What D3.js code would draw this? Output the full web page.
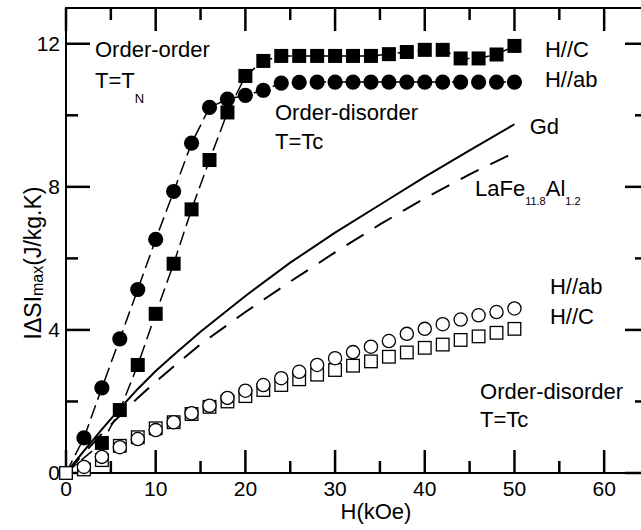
<!DOCTYPE html>
<html><head><meta charset="utf-8">
<script src="https://cdn.jsdelivr.net/npm/d3@7/dist/d3.min.js"></script>
<style>
html,body{margin:0;padding:0;background:#fff;}
svg{display:block;font-family:"Liberation Sans",Arial,Helvetica,sans-serif;}
</style></head>
<body>
<svg id="chart" width="641" height="530"></svg>
<script>
// ---- data ----
const fieldFilledCircle = [2,4,6,8,10,12,14,16,18,20,22,24,26,28,30,32,34,36,38,40,42,44,46,48,50];
const abOrderOrder = [0.98,2.38,3.75,5.13,6.53,7.87,9.22,10.22,10.45,10.56,10.7,10.9,10.92,10.93,10.93,10.93,10.93,10.93,10.93,10.93,10.93,10.93,10.93,10.93,10.93];
const fieldFilledSquare = [4,6,8,10,12,14,16,18,20,22,24,26,28,30,32,34,36,38,40,42,44,46,48,50];
const cOrderOrder = [0.84,1.76,3.02,4.45,5.85,7.37,8.75,10.08,11.1,11.52,11.66,11.66,11.66,11.66,11.66,11.66,11.71,11.77,11.83,11.83,11.59,11.59,11.7,11.94];
const fieldOpen = [2,4,6,8,10,12,14,16,18,20,22,24,26,28,30,32,34,36,38,40,42,44,46,48,50];
const abOrderDisorder = [0.17,0.45,0.72,0.95,1.2,1.42,1.67,1.88,2.1,2.3,2.46,2.65,2.83,3.02,3.21,3.38,3.53,3.69,3.89,4.03,4.16,4.29,4.41,4.5,4.6];
const fieldOpenSquare = [0,2,4,6,8,10,12,14,16,18,20,22,24,26,28,30,32,34,36,38,40,42,44,46,48,50];
const cOrderDisorder = [0,0.1,0.36,0.76,1.0,1.25,1.42,1.65,1.85,2.0,2.15,2.32,2.46,2.62,2.75,2.88,3.0,3.12,3.25,3.37,3.5,3.59,3.72,3.82,3.92,4.03];
const fieldRef = [0,2,4,6,8,10,12,15,20,25,30,35,40,45,50];
const gdValues = [0,0.62,1.22,1.8,2.35,2.85,3.3,3.95,4.95,5.88,6.72,7.5,8.28,9.02,9.75];
const laFeValues = [0,0.55,1.1,1.6,2.1,2.55,2.98,3.6,4.5,5.35,6.17,6.95,7.68,8.35,8.96];
const xMajorTicks = [0,10,20,30,40,50,60];
const xMinorTicks = [5,15,25,35,45,55];
const yMajorTicks = [0,4,8,12];
const yMinorTicks = [2,6,10];
const xTickLabels = ["0","10","20","30","40","50","60"];
const yTickLabels = ["0","4","8","12"];

const svg = d3.select("#chart");
const x = d3.scaleLinear().domain([0,65]).range([66,649]);
const y = d3.scaleLinear().domain([0,13]).range([473,8]);
const xL = x(0), xR = x(65), yB = y(0), yT = y(13);

// frame
svg.append("rect").attr("x",xL).attr("y",yT).attr("width",xR-xL).attr("height",yB-yT)
  .attr("fill","none").attr("stroke","#000").attr("stroke-width",2);

// ticks (inward, on all four sides)
const tickSegs = [];
xMajorTicks.forEach(v=>{ tickSegs.push([x(v),yB,x(v),yB-23],[x(v),yT,x(v),yT+23]); });
xMinorTicks.forEach(v=>{ tickSegs.push([x(v),yB,x(v),yB-12],[x(v),yT,x(v),yT+12]); });
yMajorTicks.forEach(v=>{ tickSegs.push([xL,y(v),xL+24,y(v)],[xR,y(v),xR-24,y(v)]); });
yMinorTicks.forEach(v=>{ tickSegs.push([xL,y(v),xL+12,y(v)],[xR,y(v),xR-14,y(v)]); });
svg.append("g").selectAll("line").data(tickSegs).join("line")
  .attr("x1",d=>d[0]).attr("y1",d=>d[1]).attr("x2",d=>d[2]).attr("y2",d=>d[3])
  .attr("stroke","#000").attr("stroke-width",2.5);

// tick labels
svg.append("g").selectAll("text").data(xMajorTicks).join("text")
  .attr("x",d=>x(d)).attr("y",yB+23).attr("text-anchor","middle").attr("font-size",21)
  .text((d,i)=>xTickLabels[i]);
svg.append("g").selectAll("text").data(yMajorTicks).join("text")
  .attr("x",xL-6).attr("y",d=>y(d)).attr("dy","0.35em").attr("text-anchor","end").attr("font-size",21)
  .text((d,i)=>yTickLabels[i]);

// axis titles
svg.append("text").attr("x",376).attr("y",519).attr("text-anchor","middle").attr("font-size",22).text("H(kOe)");
const yl = svg.append("text").attr("transform","translate(41,263) rotate(-90)").attr("text-anchor","middle").attr("font-size",23);
yl.append("tspan").text("IΔSI");
yl.append("tspan").attr("font-size",16).attr("dy",2).text("max");
yl.append("tspan").attr("dy",-2).text("(J/kg.K)");

// reference curves
const line = d3.line().x(d=>x(d[0])).y(d=>y(d[1]));
svg.append("path").attr("d",line(fieldRef.map((h,i)=>[h,gdValues[i]]))).attr("fill","none").attr("stroke","#000").attr("stroke-width",2);
svg.append("path").attr("d",line(fieldRef.map((h,i)=>[h,laFeValues[i]]))).attr("fill","none").attr("stroke","#000").attr("stroke-width",2).attr("stroke-dasharray","20,13");

// dashed connector lines for filled markers
svg.append("path").attr("d",line([[0,0]].concat(fieldFilledCircle.map((h,i)=>[h,abOrderOrder[i]]))))
  .attr("fill","none").attr("stroke","#000").attr("stroke-width",1.5).attr("stroke-dasharray","14,6");
svg.append("path").attr("d",line([[0,0]].concat(fieldFilledSquare.map((h,i)=>[h,cOrderOrder[i]]))))
  .attr("fill","none").attr("stroke","#000").attr("stroke-width",1.5).attr("stroke-dasharray","14,6");

// open markers
svg.append("g").selectAll("rect").data(fieldOpenSquare.map((h,i)=>[h,cOrderDisorder[i]])).join("rect")
  .attr("x",d=>x(d[0])-6.3).attr("y",d=>y(d[1])-6.3).attr("width",12.6).attr("height",12.6)
  .attr("fill","#fff").attr("stroke","#000").attr("stroke-width",1.3);
svg.append("g").selectAll("circle").data(fieldOpen.map((h,i)=>[h,abOrderDisorder[i]])).join("circle")
  .attr("cx",d=>x(d[0])).attr("cy",d=>y(d[1])).attr("r",6.6)
  .attr("fill","#fff").attr("stroke","#000").attr("stroke-width",1.3);

// filled markers
svg.append("g").selectAll("rect").data(fieldFilledSquare.map((h,i)=>[h,cOrderOrder[i]])).join("rect")
  .attr("x",d=>x(d[0])-7).attr("y",d=>y(d[1])-7).attr("width",14).attr("height",14).attr("fill","#000");
svg.append("g").selectAll("circle").data(fieldFilledCircle.map((h,i)=>[h,abOrderOrder[i]])).join("circle")
  .attr("cx",d=>x(d[0])).attr("cy",d=>y(d[1])).attr("r",7.6).attr("fill","#000");

// annotations (data coordinates of text start / baseline)
const annotations = [
  {h:3.23,v:11.62,t:"Order-order"},
  {h:23.3,v:9.86,t:"Order-disorder"},
  {h:23.3,v:9.05,t:"T=Tc"},
  {h:53.4,v:11.63,t:"H//C"},
  {h:53.4,v:10.8,t:"H//ab"},
  {h:51.7,v:9.48,t:"Gd"},
  {h:53.96,v:5.0,t:"H//ab"},
  {h:53.96,v:4.17,t:"H//C"},
  {h:46.16,v:2.07,t:"Order-disorder"},
  {h:46.16,v:1.29,t:"T=Tc"}
];
svg.append("g").selectAll("text").data(annotations).join("text")
  .attr("x",d=>x(d.h)).attr("y",d=>y(d.v)).attr("font-size",22).text(d=>d.t);
const tn = svg.append("text").attr("x",x(3.23)).attr("y",y(10.76)).attr("font-size",22);
tn.append("tspan").text("T=T");
tn.append("tspan").attr("font-size",13).attr("dy",15).text("N");
const lf = svg.append("text").attr("x",x(45.6)).attr("y",y(7.74)).attr("font-size",22);
lf.append("tspan").text("LaFe");
lf.append("tspan").attr("font-size",11).attr("dy",9).text("11.8");
lf.append("tspan").attr("dy",-9).text("Al");
lf.append("tspan").attr("font-size",11).attr("dy",9).text("1.2");
</script>
</body></html>
